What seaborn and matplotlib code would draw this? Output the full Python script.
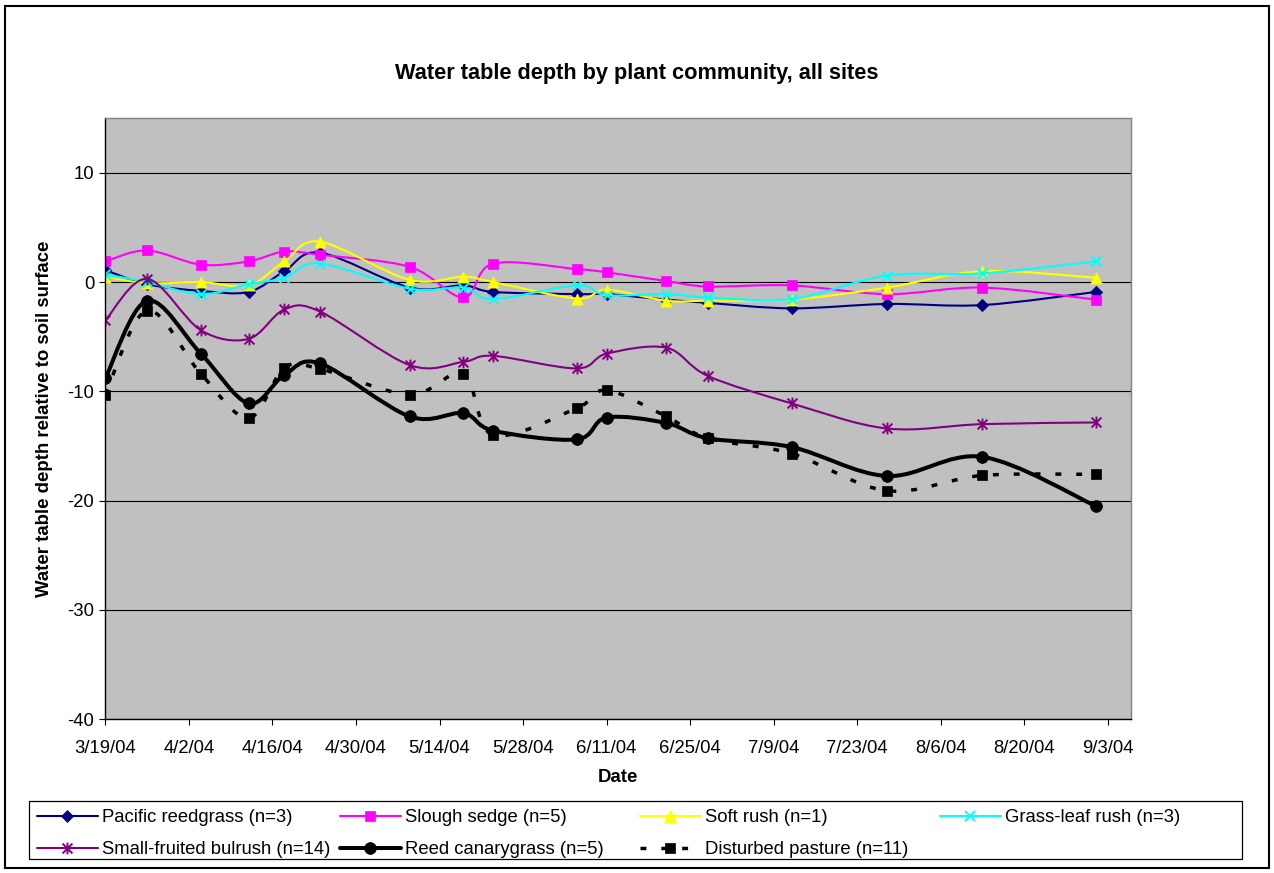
import numpy as np
import pandas as pd
import matplotlib
matplotlib.use("Agg")
import matplotlib.pyplot as plt
import matplotlib.dates as mdates
from matplotlib.path import Path
from matplotlib.patches import PathPatch, Rectangle
from matplotlib.lines import Line2D
from matplotlib.ticker import FuncFormatter, FixedLocator
import seaborn as sns

# sampling dates
dates = ["2004-03-19", "2004-03-26", "2004-04-04", "2004-04-12", "2004-04-18",
         "2004-04-24", "2004-05-09", "2004-05-18", "2004-05-23", "2004-06-06",
         "2004-06-11", "2004-06-21", "2004-06-28", "2004-07-12", "2004-07-28",
         "2004-08-13", "2004-09-01"]

# water table depth (cm) per community
pacific_reedgrass = [1.1, -0.2, -0.8, -0.9, 1.0, 2.7, -0.5, -0.3, -0.9, -1.1,
                     -1.1, -1.6, -1.9, -2.4, -2.0, -2.1, -0.9]
slough_sedge = [1.9, 2.9, 1.6, 1.9, 2.8, 2.5, 1.4, -1.4, 1.7, 1.2,
                0.9, 0.1, -0.4, -0.3, -1.1, -0.5, -1.6]
soft_rush = [0.5, -0.1, 0.0, -0.3, 1.9, 3.7, 0.2, 0.5, 0.0, -1.5,
             -0.7, -1.7, -1.7, -1.6, -0.5, 1.0, 0.4]
grass_leaf_rush = [0.7, 0.0, -1.1, -0.2, 0.4, 1.7, -0.6, -0.5, -1.55, -0.3,
                   -1.2, -1.1, -1.4, -1.55, 0.6, 0.8, 1.9]
small_fruited_bulrush = [-3.5, 0.3, -4.4, -5.2, -2.5, -2.7, -7.6, -7.3, -6.75, -7.9,
                         -6.55, -6.0, -8.6, -11.1, -13.4, -13.0, -12.85]
reed_canarygrass = [-8.8, -1.7, -6.55, -11.1, -8.5, -7.45, -12.3, -12.0, -13.6, -14.4,
                    -12.4, -12.9, -14.3, -15.1, -17.75, -16.0, -20.5]
disturbed_pasture = [-10.3, -2.6, -8.4, -12.45, -7.85, -7.95, -10.3, -8.4, -14.0, -11.55,
                     -9.9, -12.3, -14.3, -15.7, -19.1, -17.7, -17.6]

labels = ["Pacific reedgrass (n=3)", "Slough sedge (n=5)", "Soft rush (n=1)",
          "Grass-leaf rush (n=3)", "Small-fruited bulrush (n=14)",
          "Reed canarygrass (n=5)", "Disturbed pasture (n=11)"]
values = [pacific_reedgrass, slough_sedge, soft_rush, grass_leaf_rush,
          small_fruited_bulrush, reed_canarygrass, disturbed_pasture]

df = pd.concat([pd.DataFrame({"date": pd.to_datetime(dates), "depth": v, "community": lab})
                for lab, v in zip(labels, values)], ignore_index=True)

# excel style star marker: x plus vertical bar
star = Path([(-1, -1), (1, 1), (-1, 1), (1, -1), (0, -1.2), (0, 1.2)],
            [Path.MOVETO, Path.LINETO, Path.MOVETO, Path.LINETO, Path.MOVETO, Path.LINETO])

styles = {
    labels[0]: dict(color="#000080", marker="D", ms=6.3, lw=1.5, ls="-"),
    labels[1]: dict(color="#FF00FF", marker="s", ms=7.5, lw=1.5, ls="-"),
    labels[2]: dict(color="#FFFF00", marker="^", ms=8.0, lw=1.5, ls="-"),
    labels[3]: dict(color="#00FFFF", marker="x", ms=7.0, lw=1.5, ls="-"),
    labels[4]: dict(color="#800080", marker=star, ms=8.5, lw=1.5, ls="-"),
    labels[5]: dict(color="#000000", marker="o", ms=8.5, lw=2.9, ls="-"),
    labels[6]: dict(color="#000000", marker="s", ms=7.8, lw=2.5, ls=(0, (1.7, 4.3))),
}


def smooth_path(x, y):
    # bezier curve through the points, like Excel's smoothed line
    pts = np.column_stack([x, y])
    n = len(pts)
    verts = [pts[0]]
    codes = [Path.MOVETO]
    for i in range(n - 1):
        p0 = pts[max(i - 1, 0)]
        p1 = pts[i]
        p2 = pts[i + 1]
        p3 = pts[min(i + 2, n - 1)]
        verts += [p1 + (p2 - p0) / 6.0, p2 - (p3 - p1) / 6.0, p2]
        codes += [Path.CURVE4] * 3
    return Path(verts, codes)


sns.set_theme(style="white")
plt.rcParams["font.family"] = ["Liberation Sans", "DejaVu Sans"]
plt.rcParams["axes.unicode_minus"] = False
plt.rcParams["text.color"] = "black"

fig = plt.figure(figsize=(12.74, 8.73), dpi=100)
ax = fig.add_axes([0.0827, 0.1764, 0.8051, 0.6881])
ax.set_facecolor("#C0C0C0")

for i, lab in enumerate(labels):
    st = styles[lab]
    sub = df[df["community"] == lab]
    xs = mdates.date2num(sub["date"])
    patch = PathPatch(smooth_path(xs, sub["depth"].to_numpy()), fill=False,
                      edgecolor=st["color"], linewidth=st["lw"], linestyle=st["ls"],
                      capstyle="butt", zorder=2 + i * 0.1)
    ax.add_patch(patch)
    unfilled = st["marker"] in ("x",) or st["marker"] is star
    sns.scatterplot(data=sub, x="date", y="depth", ax=ax, marker=st["marker"],
                    s=st["ms"] ** 2, color=st["color"],
                    edgecolor=st["color"] if not unfilled else None,
                    linewidth=1.4 if unfilled else 0.5,
                    zorder=2.05 + i * 0.1, legend=False)

start = pd.Timestamp("2004-03-19")
ax.set_xlim(mdates.date2num(start), mdates.date2num(start) + 171.9)
ax.set_ylim(-40, 15)

tick_dates = pd.date_range("2004-03-19", "2004-09-03", freq="14D")
ax.xaxis.set_major_locator(FixedLocator(mdates.date2num(tick_dates)))
ax.xaxis.set_major_formatter(FuncFormatter(
    lambda v, p: "{}/{}/{}".format(mdates.num2date(v).month, mdates.num2date(v).day,
                                   mdates.num2date(v).strftime("%y"))))
ax.yaxis.set_major_locator(FixedLocator([-40, -30, -20, -10, 0, 10]))

ax.grid(axis="y", color="black", linewidth=0.8)
ax.grid(axis="x", visible=False)
ax.tick_params(axis="both", direction="out", length=4, width=0.8, color="black",
               labelsize=13.3, labelcolor="black")
ax.tick_params(axis="x", pad=11)
ax.tick_params(axis="y", pad=4)
ax.tick_params(bottom=True, left=True)
for side in ["left", "bottom"]:
    ax.spines[side].set_color("black")
    ax.spines[side].set_linewidth(1.0)
for side in ["top", "right"]:
    ax.spines[side].set_color("#808080")
    ax.spines[side].set_linewidth(1.0)
ax.set_xlabel("")
ax.set_ylabel("")

fig.text(0.5, 1 - 73 / 873, "Water table depth by plant community, all sites",
         ha="center", va="center", fontsize=15.7, fontweight="bold")
fig.text(45 / 1274, 1 - 419 / 873, "Water table depth relative to soil surface",
         ha="center", va="center", rotation=90, fontsize=13.4, fontweight="bold")
fig.text(618 / 1274, 1 - 777 / 873, "Date", ha="center", va="center",
         fontsize=13.4, fontweight="bold")

# legend: four columns laid out like the Excel legend
def handle(lab):
    st = styles[lab]
    unfilled = st["marker"] in ("x",) or st["marker"] is star
    return Line2D([], [], color=st["color"], lw=st["lw"], ls=st["ls"],
                  marker=st["marker"], markersize=st["ms"],
                  markeredgewidth=1.4 if unfilled else 0.5, dash_capstyle="butt")

columns = [[labels[0], labels[4]], [labels[1], labels[5]],
           [labels[2], labels[6]], [labels[3]]]
col_x = [37, 340, 640, 940]
for cx, col in zip(col_x, columns):
    fig.legend([handle(l) for l in col], col, loc="upper left",
               bbox_to_anchor=(cx / 1274, 1 - 809 / 873), frameon=False,
               fontsize=13.3, handlelength=3.3, handletextpad=0.2,
               borderpad=0, borderaxespad=0, labelspacing=0.82)

fig.add_artist(Rectangle((29 / 1274, 1 - 859 / 873), (1242 - 29) / 1274, 58 / 873,
                         transform=fig.transFigure, fill=False, edgecolor="black",
                         linewidth=0.9))
fig.add_artist(Rectangle((5 / 1274, 1 - 868 / 873), (1269 - 5) / 1274, 862 / 873,
                         transform=fig.transFigure, fill=False, edgecolor="black",
                         linewidth=1.5))

fig.savefig("out.png", dpi=100)
plt.close(fig)
